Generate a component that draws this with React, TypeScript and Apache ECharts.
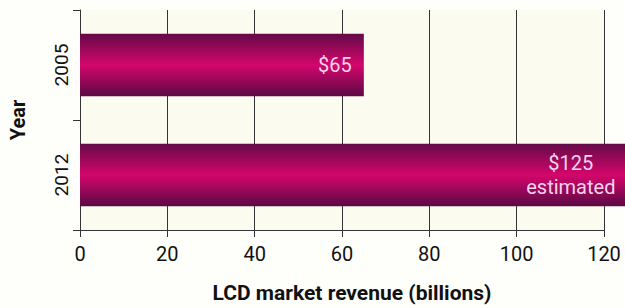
import React, { useEffect, useRef } from "react";
import * as echarts from "echarts";

const years = ["2005", "2012"];
const revenue = [65, 125];
const barLabels = ["{s|$65}", "{c|$125}\n{c|estimated}"];
const xTicks = [0, 20, 40, 60, 80, 100, 120];

const FONT = "Roboto, 'Liberation Sans', sans-serif";

export default function App() {
  const ref = useRef<HTMLDivElement>(null);
  useEffect(() => {
    if (!ref.current) return;
    const chart = echarts.init(ref.current, null, { renderer: "svg" });
    const grad = new echarts.graphic.LinearGradient(0, 0, 0, 1, [
      { offset: 0, color: "#640a48" },
      { offset: 0.5, color: "#d4066c" },
      { offset: 1, color: "#5a0944" },
    ]);
    const labelColor = "#f7d4ec";
    chart.setOption({
      animation: false,
      backgroundColor: "#fefefb",
      grid: {
        left: 77,
        right: 21,
        top: 10,
        bottom: 75,
        containLabel: false,
        show: true,
        backgroundColor: "#fcfbef",
        borderWidth: 0,
      },
      xAxis: {
        type: "value",
        min: 0,
        max: 120,
        interval: 20,
        name: "LCD market revenue (billions)",
        nameLocation: "middle",
        nameGap: 52,
        nameTextStyle: {
          fontFamily: FONT,
          fontSize: 21,
          fontWeight: "bold",
          color: "#111",
          padding: [0, 0, 0, 20],
        },
        axisLine: { show: true, lineStyle: { color: "#333", width: 1 } },
        axisTick: { show: true, length: 7, lineStyle: { color: "#333" } },
        axisLabel: {
          fontFamily: FONT,
          fontSize: 20,
          color: "#111",
          margin: 14,
          formatter: (v: number) => (xTicks.includes(v) ? String(v) : ""),
        },
        splitLine: { show: true, lineStyle: { color: "#333", width: 1 } },
      },
      yAxis: {
        type: "category",
        data: years,
        inverse: true,
        name: "Year",
        nameLocation: "middle",
        nameRotate: 90,
        nameGap: 52,
        nameTextStyle: { fontFamily: FONT, fontSize: 20, fontWeight: "bold", color: "#111" },
        axisLine: { show: true, lineStyle: { color: "#333", width: 1 } },
        axisTick: { show: true, length: 7, lineStyle: { color: "#333" } },
        axisLabel: { rotate: 90, fontFamily: FONT, fontSize: 19, color: "#111", margin: 9 },
        splitLine: { show: false },
      },
      series: [
        {
          type: "bar",
          clip: false,
          barCategoryGap: "43%",
          data: revenue.map((v, i) => ({
            value: v,
            label: { formatter: barLabels[i] },
          })),
          itemStyle: { color: grad },
          label: {
            show: true,
            position: "insideRight",
            distance: 12,
            fontFamily: FONT,
            fontSize: 20,
            color: labelColor,
            rich: {
              s: { fontFamily: FONT, fontSize: 20, color: labelColor },
              c: {
                fontFamily: FONT,
                fontSize: 20,
                lineHeight: 24,
                color: labelColor,
                width: 86,
                align: "center",
              },
            },
          },
        },
      ],
    });
    return () => chart.dispose();
  }, []);
  return (
    <div
      ref={ref}
      style={{ position: "fixed", left: 0, top: 0, width: 625, height: 308 }}
    />
  );
}
